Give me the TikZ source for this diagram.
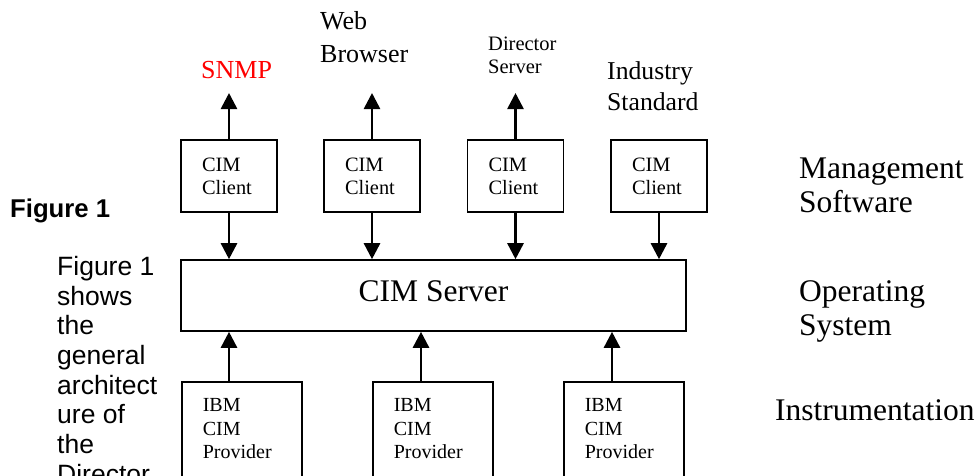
\documentclass[tikz,border=0pt]{standalone}
\usepackage{fontspec}
\setmainfont{Liberation Serif}
\newfontfamily\arialfont{Liberation Sans}
\usepackage{xcolor}
\usetikzlibrary{positioning,arrows.meta}
\newcommand{\cimfont}[2]{\fontsize{#1}{#2}\selectfont}

\begin{document}
\begin{tikzpicture}[x=1pt,y=-1pt,
    box/.style={draw,line width=1.6pt,inner sep=0pt},
    clientbox/.style={box,align=left,text width=54pt,inner xsep=21pt,minimum height=72pt,font=\cimfont{20.4}{23}},
    providerbox/.style={box,align=left,text width=78pt,inner xsep=21pt,inner ysep=17pt,text depth=80pt,font=\cimfont{20}{23.5}},
    label/.style={inner sep=0pt,align=left},
    flow/.style={line width=2.6pt,-{Triangle[length=16pt,width=16pt]}}]
    \useasboundingbox (0,0) rectangle (978,475);
    \clip (0,0) rectangle (978,475);
    %
    %left text
    \node[label,anchor=base west,font=\arialfont\bfseries\cimfont{25.7}{30}] (fig) at (10,217) {Figure 1};
    \node[label,anchor=north west,font=\arialfont\cimfont{26.5}{29.7}] (caption) at (57,256)
        {Figure 1\\shows\\the\\general\\architect\\ure of\\the\\Director};
    %
    %top labels
    \node[label,anchor=base west,text=red,font=\cimfont{26}{31.5}] (snmp) at (201,78) {SNMP};
    \node[label,anchor=north west,font=\cimfont{26}{32.4}] (web) at (320,11.5) {Web\\Browser};
    \node[label,anchor=north west,font=\cimfont{20.5}{23}] (director) at (488,37) {Director\\Server};
    \node[label,anchor=north west,font=\cimfont{25.7}{31}] (industry) at (607,61) {Industry\\Standard};
    \coordinate (tipline) at (0,93);
    %
    %clients
    \node[clientbox] (c1) at (229,176) {CIM\\Client};
    \node[clientbox] (c2) at (372,176) {CIM\\Client};
    \node[clientbox] (c3) at (515.5,176) {CIM\\Client};
    \node[clientbox] (c4) at (659,176) {CIM\\Client};
    %
    %server
    \node[box,minimum width=505pt,minimum height=71pt,text depth=8pt,font=\cimfont{31.5}{36}] (srv) at (433.5,295.5) {CIM Server};
    %
    %providers
    \node[providerbox,anchor=north west] (p1) at (181,381) {IBM\\CIM\\Provider};
    \node[providerbox,anchor=north west] (p2) at (372,381) {IBM\\CIM\\Provider};
    \node[providerbox,anchor=north west] (p3) at (563,381) {IBM\\CIM\\Provider};
    \coordinate (p1top) at ([xshift=48pt]p1.north west);
    \coordinate (p2top) at ([xshift=49pt]p2.north west);
    \coordinate (p3top) at ([xshift=49pt]p3.north west);
    %
    %right labels
    \node[label,anchor=north west,font=\cimfont{31.5}{34}] (mgmt) at (799,158) {Management\\Software};
    \node[label,anchor=north west,font=\cimfont{31.5}{34}] (os) at (799,280.7) {Operating\\System};
    \node[label,anchor=base west,font=\cimfont{31.5}{34}] (instr) at (775,420) {Instrumentation};
    %
    %arrows
    \draw[flow] (c1.north) -- (c1.north |- tipline);
    \draw[flow] (c2.north) -- (c2.north |- tipline);
    \draw[flow] (c3.north) -- (c3.north |- tipline);
    \draw[flow] (c1.south) -- (c1.south |- srv.north);
    \draw[flow] (c2.south) -- (c2.south |- srv.north);
    \draw[flow] (c3.south) -- (c3.south |- srv.north);
    \draw[flow] (c4.south) -- (c4.south |- srv.north);
    \draw[flow] (p1top) -- (p1top |- srv.south);
    \draw[flow] (p2top) -- (p2top |- srv.south);
    \draw[flow] (p3top) -- (p3top |- srv.south);
\end{tikzpicture}
\end{document}
